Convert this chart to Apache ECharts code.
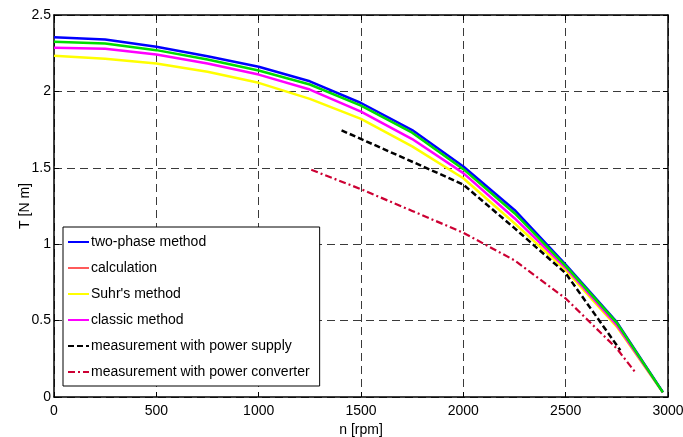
<!DOCTYPE html>
<html>
<head>
<meta charset="utf-8">
<script src="https://cdn.jsdelivr.net/npm/echarts@6/dist/echarts.min.js"></script>
<style>html,body{margin:0;padding:0;background:#fff}#c{width:683px;height:437px}</style>
</head>
<body>
<div id="c"></div>
<script>
// ---- data ----
var rpmCalc = [0, 250, 500, 750, 1000, 1250, 1500, 1750, 2000, 2250, 2500, 2750, 2975];
var twoPhase = [2.355, 2.34, 2.292, 2.23, 2.161, 2.066, 1.924, 1.747, 1.509, 1.224, 0.867, 0.49, 0.032];
var calculation = [2.325, 2.314, 2.27, 2.209, 2.137, 2.045, 1.907, 1.73, 1.491, 1.203, 0.858, 0.485, 0.03];
var classic = [2.285, 2.279, 2.241, 2.182, 2.11, 2.012, 1.868, 1.688, 1.465, 1.17, 0.846, 0.47, 0.03];
var suhr = [2.233, 2.213, 2.182, 2.128, 2.056, 1.951, 1.82, 1.64, 1.432, 1.137, 0.83, 0.459, 0.03];
var rpmSupply = [1405, 1918, 2000, 2250, 2500, 2767];
var measSupply = [1.745, 1.44, 1.39, 1.105, 0.81, 0.306];
var rpmConv = [1257, 1500, 1750, 2000, 2250, 2500, 2750, 2845];
var measConv = [1.487, 1.36, 1.218, 1.075, 0.894, 0.645, 0.317, 0.153];
var legendNames = ['two-phase method', 'calculation', "Suhr's method", 'classic method',
  'measurement with power supply', 'measurement with power converter'];
var xTicks = {min: 0, max: 3000, interval: 500};
var yTicks = {min: 0, max: 2.5, interval: 0.5};

function pairs(xs, ys) { return xs.map(function (x, i) { return [x, ys[i]]; }); }

var font = 'Liberation Sans, Arial, sans-serif';
var chart = echarts.init(document.getElementById('c'));
var gridLine = {show: true, lineStyle: {color: '#3a3a3a', type: [8, 5], width: 1}};
var axLine = {show: true, onZero: false, lineStyle: {color: '#000', width: 1.5}};
var axTick = {show: true, inside: true, length: 5, lineStyle: {color: '#000', width: 1}};
var lbl = {color: '#000', fontSize: 14, fontFamily: font, formatter: function (v) { return String(v); }};

function lineSeries(name, data, color, width, type, z) {
  return {
    name: name, type: 'line', data: data, symbol: 'none', z: z,
    lineStyle: {color: color, width: width, type: type},
    itemStyle: {color: color}, animation: false
  };
}

chart.setOption({
  animation: false,
  grid: {left: 54, right: 15, top: 15, bottom: 40, containLabel: false, outerBoundsMode: 'none'},
  xAxis: [{
    type: 'value', min: xTicks.min, max: xTicks.max, interval: xTicks.interval,
    name: 'n [rpm]', nameLocation: 'middle', nameGap: 26, nameMoveOverlap: false,
    nameTextStyle: {color: '#000', fontSize: 14, fontFamily: font},
    axisLine: axLine, axisTick: axTick, splitLine: gridLine,
    axisLabel: Object.assign({margin: 7}, lbl)
  }, {
    type: 'value', position: 'top', min: xTicks.min, max: xTicks.max, interval: xTicks.interval,
    axisLine: axLine, axisTick: axTick, splitLine: {show: false}, axisLabel: {show: false}
  }],
  yAxis: [{
    type: 'value', min: yTicks.min, max: yTicks.max, interval: yTicks.interval,
    name: 'T [N m]', nameLocation: 'middle', nameGap: 22, nameRotate: 90, nameMoveOverlap: false,
    nameTextStyle: {color: '#000', fontSize: 14, fontFamily: font},
    axisLine: axLine, axisTick: axTick, splitLine: gridLine,
    axisLabel: Object.assign({margin: 3}, lbl)
  }, {
    type: 'value', position: 'right', min: yTicks.min, max: yTicks.max, interval: yTicks.interval,
    axisLine: axLine, axisTick: axTick, splitLine: {show: false}, axisLabel: {show: false}
  }],
  legend: {
    orient: 'vertical', left: 63, top: 227, width: 256,
    backgroundColor: '#fff', borderColor: '#000', borderWidth: 1,
    padding: [8, 10, 7, 4], itemGap: 12, itemWidth: 21, itemHeight: 14,
    itemStyle: {opacity: 0},
    textStyle: {color: '#000', fontSize: 14, fontFamily: font, padding: [0, 0, 0, -3]},
    selectedMode: false,
    data: [
      {name: legendNames[0]},
      {name: legendNames[1], lineStyle: {color: '#ff5a5a'}},
      {name: legendNames[2]},
      {name: legendNames[3]},
      {name: legendNames[4]},
      {name: legendNames[5]}
    ]
  },
  series: [
    lineSeries(legendNames[2], pairs(rpmCalc, suhr), '#ffff00', 2.5, 'solid', 2),
    lineSeries(legendNames[3], pairs(rpmCalc, classic), '#ff00ff', 2.5, 'solid', 3),
    lineSeries(legendNames[0], pairs(rpmCalc, twoPhase), '#0000ff', 2.5, 'solid', 4),
    lineSeries(legendNames[1], pairs(rpmCalc, calculation), '#00dd00', 2.5, 'solid', 5),
    lineSeries(legendNames[4], pairs(rpmSupply, measSupply), '#000000', 2.5, [6, 3], 6),
    lineSeries(legendNames[5], pairs(rpmConv, measConv), '#cc0033', 2.2, [7, 3, 2, 3], 7)
  ]
});
</script>
</body>
</html>
